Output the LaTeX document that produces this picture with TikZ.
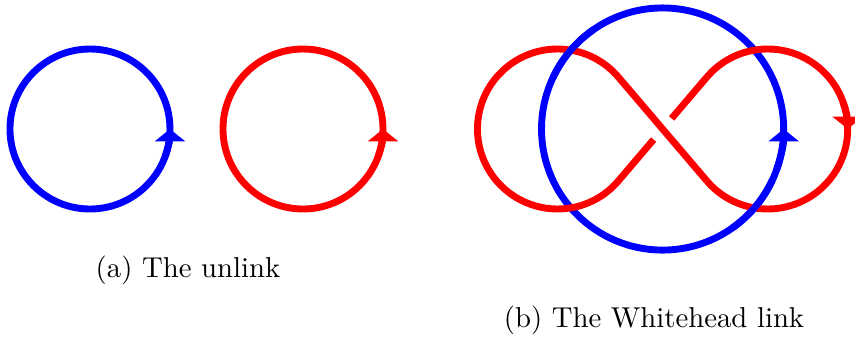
\documentclass[tikz,border=0pt]{standalone}
\usepackage{tikz}
\usetikzlibrary{arrows.meta,calc}

\begin{document}
\begin{tikzpicture}[
  strand/.style={line width=2.4pt},
  caption/.style={font=\normalsize},
  tip/.style={-{Triangle[width=10.4pt,length=4.3pt]}}
]
  \useasboundingbox (-1.100,-2.555) rectangle (9.352,1.577);

  % (a) the unlink: two separate circles
  \coordinate (ua) at (0,0);
  \coordinate (ub) at (2.604,0);
  \draw[strand, blue] (ua) circle (0.978);
  \draw[strand, blue, tip] ($(ua)+(-20:0.978)$) arc (-20:0:0.978);
  \draw[strand, red] (ub) circle (0.978);
  \draw[strand, red, tip] ($(ub)+(-20:0.978)$) arc (-20:0:0.978);
  \node[caption] (capa) at (1.198,-1.724) {(a) The unlink};

  % (b) the Whitehead link
  \coordinate (wc) at (7,0);      % blue circle, also red self-crossing
  \coordinate (wl) at (5.715,0);  % left lobe
  \coordinate (wr) at (8.285,0);  % right lobe
  \coordinate (lt) at ($(wl)+(40.44:0.978)$);
  \coordinate (lb) at ($(wl)+(-40.44:0.978)$);
  \coordinate (rt) at ($(wr)+(139.56:0.978)$);
  \coordinate (rb) at ($(wr)+(220.44:0.978)$);
  \draw[strand, blue] (wc) circle (1.48);
  \draw[strand, blue, tip] ($(wc)+(-20:1.48)$) arc (-20:0:1.48);

  % red figure eight
  \draw[strand, red] (lt) arc (40.44:319.56:0.978);
  \draw[strand, red] (rt) arc (139.56:-139.56:0.978);
  \draw[strand, red, tip] ($(wr)+(20:0.978)$) arc (20:0:0.978);
  \draw[strand, red] (lt) -- (rb);
  \draw[strand, red] (lb) -- ($(wc)!0.17cm!(lb)$);
  \draw[strand, red] ($(wc)!0.17cm!(rt)$) -- (rt);

  % blue passes over red here
  \draw[strand, blue] ($(wc)+(125:1.48)$) arc (125:155:1.48);
  \draw[strand, blue] ($(wc)+(-55:1.48)$) arc (-55:-25:1.48);

  \node[caption] (capb) at (6.895,-2.335) {(b) The Whitehead link};
\end{tikzpicture}
\end{document}
